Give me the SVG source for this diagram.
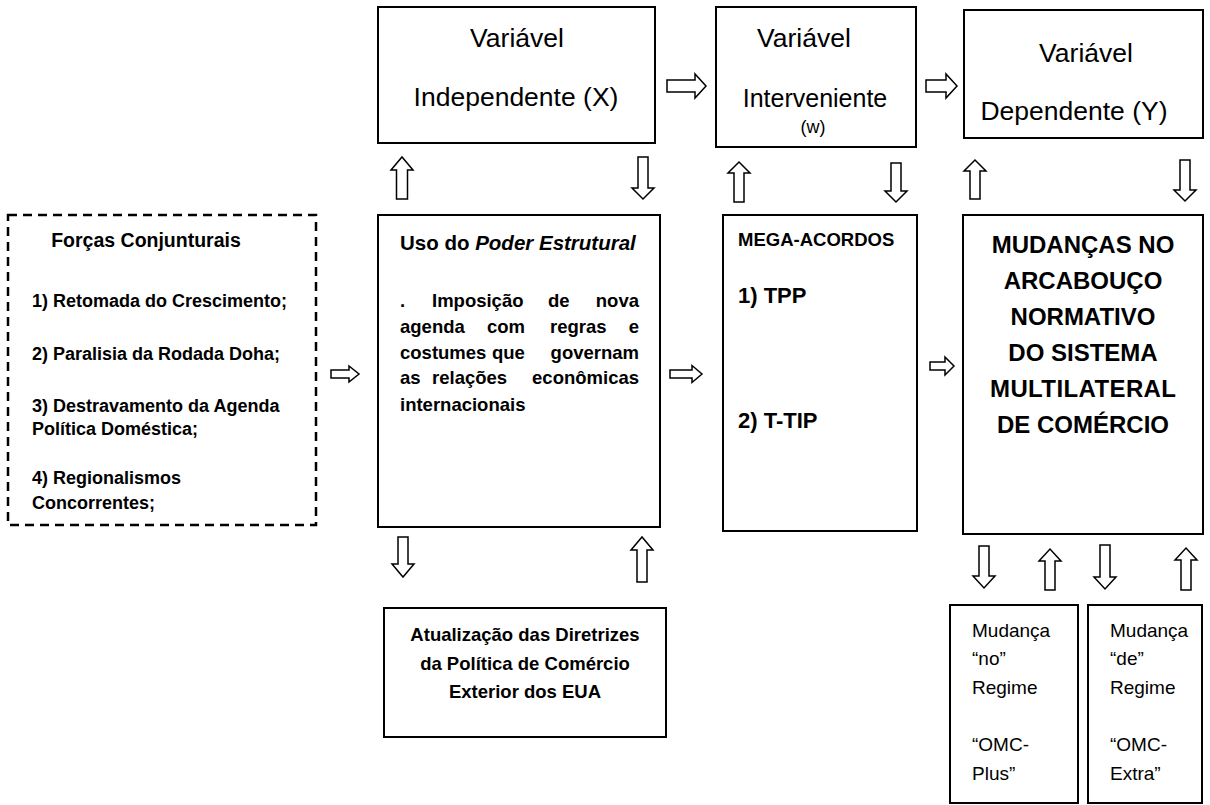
<svg xmlns="http://www.w3.org/2000/svg" width="1210" height="805" viewBox="0 0 1210 805">
<style>
.box{fill:#fff;stroke:#000;stroke-width:2}
.dash{fill:#fff;stroke:#000;stroke-width:2.5;stroke-dasharray:9 6}
.arr{fill:#fff;stroke:#000;stroke-width:1.5;stroke-linejoin:miter}
text{font-family:"Liberation Sans",Arial,sans-serif;fill:#000}
.big{font-size:26.5px}
.b{font-weight:bold}
.m{text-anchor:middle}
.e{text-anchor:end}
</style>
<rect width="1210" height="805" fill="#fff"/>
<g id="var-independente">
<rect class="box" x="378" y="7" width="277" height="136"/>
<text class="big m" x="517" y="47">Variável</text>
<text class="big m" x="516" y="106">Independente (X)</text>
</g>
<g id="var-interveniente">
<rect class="box" x="716" y="7" width="200" height="140"/>
<text class="big" x="757" y="47">Variável</text>
<text class="m" x="815" y="107" font-size="25">Interveniente</text>
<text class="m" x="813" y="133" font-size="18">(w)</text>
</g>
<g id="var-dependente">
<rect class="box" x="964" y="10" width="239" height="128"/>
<text class="big m" x="1086" y="62">Variável</text>
<text class="big m" x="1074" y="120">Dependente (Y)</text>
</g>
<g id="forcas">
<rect class="dash" x="8" y="215" width="308" height="310"/>
<text class="b m" x="146" y="247" font-size="19.5">Forças Conjunturais</text>
<g class="b" font-size="18">
<text x="32" y="307">1) Retomada do Crescimento;</text>
<text x="32" y="360">2) Paralisia da Rodada Doha;</text>
<text x="32" y="412">3) Destravamento da Agenda</text>
<text x="32" y="435">Política Doméstica;</text>
<text x="32" y="484">4) Regionalismos</text>
<text x="32" y="509">Concorrentes;</text>
</g>
</g>
<g id="uso-poder">
<rect class="box" x="378" y="215" width="282" height="312"/>
<text class="b" x="400" y="250" font-size="20.5">Uso do <tspan font-style="italic">Poder Estrutural</tspan></text>
<g class="b" font-size="18.5">
<text x="400" y="307">.</text><text x="432" y="307">Imposição</text><text x="548" y="307">de</text><text class="e" x="639" y="307">nova</text>
<text x="400" y="333">agenda</text><text x="487" y="333">com</text><text x="550" y="333">regras</text><text class="e" x="639" y="333">e</text>
<text x="400" y="359">costumes</text><text x="492" y="359">que</text><text class="e" x="639" y="359">governam</text>
<text x="400" y="384">as</text><text x="432" y="384">relações</text><text class="e" x="639" y="384">econômicas</text>
<text x="400" y="411">internacionais</text>
</g>
</g>
<g id="mega-acordos">
<rect class="box" x="723" y="215" width="194" height="316"/>
<text class="b" x="738" y="246" font-size="18.5">MEGA-ACORDOS</text>
<text class="b" x="738" y="303" font-size="22">1) TPP</text>
<text class="b" x="738" y="428" font-size="22">2) T-TIP</text>
</g>
<g id="mudancas">
<rect class="box" x="963" y="215" width="240" height="319"/>
<g class="b m" font-size="24">
<text x="1083" y="253">MUDANÇAS NO</text>
<text x="1083" y="289">ARCABOUÇO</text>
<text x="1083" y="325">NORMATIVO</text>
<text x="1083" y="361">DO SISTEMA</text>
<text x="1083" y="397" textLength="186">MULTILATERAL</text>
<text x="1083" y="433">DE COMÉRCIO</text>
</g>
</g>
<g id="atualizacao">
<rect class="box" x="384" y="608" width="282" height="129"/>
<g class="b m" font-size="18.5">
<text x="525" y="641">Atualização das Diretrizes</text>
<text x="525" y="670">da Política de Comércio</text>
<text x="525" y="698">Exterior dos EUA</text>
</g>
</g>
<g id="omc-plus">
<rect class="box" x="950" y="605" width="128" height="198"/>
<g font-size="19">
<text x="972" y="637">Mudança</text>
<text x="972" y="665">“no”</text>
<text x="972" y="694">Regime</text>
<text x="972" y="751">“OMC-</text>
<text x="972" y="780">Plus”</text>
</g>
</g>
<g id="omc-extra">
<rect class="box" x="1088" y="605" width="114" height="198"/>
<g font-size="19">
<text x="1110" y="637">Mudança</text>
<text x="1110" y="665">“de”</text>
<text x="1110" y="694">Regime</text>
<text x="1110" y="751">“OMC-</text>
<text x="1110" y="780">Extra”</text>
</g>
</g>
<g id="connectors">
<path class="arr" d="M667,80 L695,80 L695,74 L706,86 L695,98 L695,92 L667,92 Z"/>
<path class="arr" d="M926,80 L946,80 L946,74 L957,86 L946,98 L946,92 L926,92 Z"/>
<path class="arr" d="M331,370 L349,370 L349,366 L359,374 L349,382 L349,378 L331,378 Z"/>
<path class="arr" d="M670,370 L692,370 L692,365.5 L702,374 L692,382.5 L692,378 L670,378 Z"/>
<path class="arr" d="M930,362 L945,362 L945,357 L954,366 L945,375 L945,370 L930,370 Z"/>
<path class="arr" d="M396.5,199 L396.5,170 L391,170 L402,157 L413,170 L407.5,170 L407.5,199 Z"/>
<path class="arr" d="M638,157 L648,157 L648,188 L654,188 L643,199 L632,188 L638,188 Z"/>
<path class="arr" d="M734,202 L734,173 L728,173 L739,162 L750,173 L744,173 L744,202 Z"/>
<path class="arr" d="M891,163 L901,163 L901,191 L907,191 L896,202 L885,191 L891,191 Z"/>
<path class="arr" d="M970,199 L970,171 L964,171 L975,160 L986,171 L980,171 L980,199 Z"/>
<path class="arr" d="M1180,160 L1190,160 L1190,190 L1196,190 L1185,201 L1174,190 L1180,190 Z"/>
<path class="arr" d="M398,537 L408,537 L408,564 L414,564 L403,577 L392,564 L398,564 Z"/>
<path class="arr" d="M637,582 L637,550 L631,550 L642,537 L653,550 L647,550 L647,582 Z"/>
<path class="arr" d="M979,546 L989,546 L989,576 L995,576 L984,588 L973,576 L979,576 Z"/>
<path class="arr" d="M1045,590 L1045,561 L1039,561 L1050,549 L1061,561 L1055,561 L1055,590 Z"/>
<path class="arr" d="M1100,545 L1110,545 L1110,577 L1116,577 L1105,589 L1094,577 L1100,577 Z"/>
<path class="arr" d="M1181,590 L1181,560 L1175,560 L1186,548 L1197,560 L1191,560 L1191,590 Z"/>
</g>
</svg>
